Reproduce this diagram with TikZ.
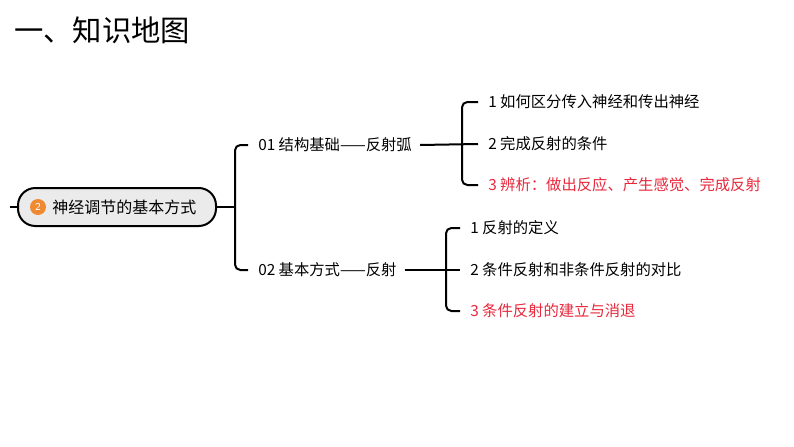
\documentclass[tikz,border=0pt]{standalone}
\usepackage{fontspec}
\newfontfamily\cjk{Noto Sans CJK SC}
\definecolor{myred}{HTML}{E8283C}
\definecolor{myorange}{HTML}{F08A32}
\begin{document}
\begin{tikzpicture}[x=0.75pt,y=-0.75pt,
  txt/.style={anchor=west,inner sep=0pt,font=\cjk\fontsize{11.5pt}{13pt}\selectfont},
  redtxt/.style={txt,text=myred},
  br/.style={draw=black,line width=1.5pt,rounded corners=4pt},
  ln/.style={draw=black,line width=1.5pt}]
\useasboundingbox (0,0) rectangle (794,447);
\node[anchor=west,inner sep=0pt,font=\cjk\fontsize{22pt}{26pt}\selectfont] (title) at (14,30) {一、知识地图};
\node[draw=black,line width=1.5pt,fill=black!8,rounded corners=13pt,minimum width=198*0.75pt,minimum height=38*0.75pt,anchor=west] (main) at (17,207) {};
\node[circle,fill=myorange,minimum size=16*0.75pt,inner sep=0pt,text=white,font=\sffamily\fontsize{8pt}{9pt}\selectfont] (num) at (38,207) {2};
\node[txt,font=\cjk\fontsize{12pt}{14pt}\selectfont] (maint) at (52,207) {神经调节的基本方式};
\coordinate (tick) at (10,207);
\draw[ln] (tick) -- (main.west);
\node[txt] (a) at (258,145) {01 结构基础——反射弧};
\node[txt] (b) at (258,270) {02 基本方式——反射};
\coordinate (j1) at (235,207);
\draw[ln] (main.east) -- (j1);
\draw[br] (a.west) ++(-10pt*0.75,0) -| (j1) |- ([xshift=-7.5pt]b.west);
\node[txt] (a1) at (488,102) {1 如何区分传入神经和传出神经};
\node[txt] (a2) at (488,144) {2 完成反射的条件};
\node[redtxt] (a3) at (488,185) {3 辨析：做出反应、产生感觉、完成反射};
\node[txt] (b1) at (470,228) {1 反射的定义};
\node[txt] (b2) at (470,270) {2 条件反射和非条件反射的对比};
\node[redtxt] (b3) at (470,311) {3 条件反射的建立与消退};
\coordinate (j2) at (462,144);
\coordinate (j3) at (446,270);
\draw[ln] ([xshift=6pt]a.east) -- ([xshift=-7.5pt]a2.west);
\draw[br] ([xshift=-7.5pt]a1.west) -| (j2) |- ([xshift=-7.5pt]a3.west);
\draw[ln] ([xshift=6pt]b.east) -- ([xshift=-7.5pt]b2.west);
\draw[br] ([xshift=-7.5pt]b1.west) -| (j3) |- ([xshift=-7.5pt]b3.west);
\end{tikzpicture}
\end{document}
